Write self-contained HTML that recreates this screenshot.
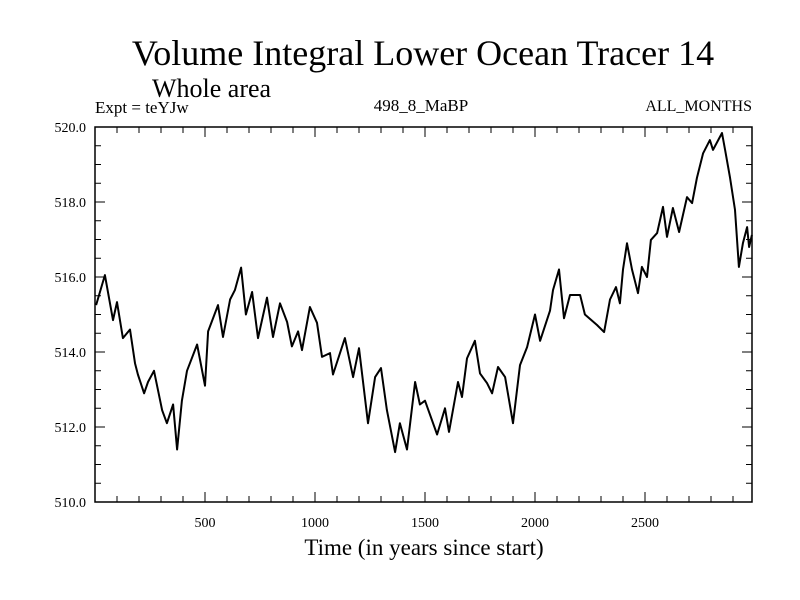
<!DOCTYPE html>
<html><head><meta charset="utf-8"><style>
body{margin:0;background:#fff}
svg{display:block;font-family:"Liberation Serif",serif}
</style></head><body>
<svg id="chart" width="800" height="600">
<text x="423" y="65" font-size="36" text-anchor="middle">Volume Integral Lower Ocean Tracer 14</text>
<text x="152" y="97" font-size="26">Whole area</text>
<text x="95" y="113" font-size="17">Expt = teYJw</text>
<text x="421" y="111" font-size="17" text-anchor="middle">498_8_MaBP</text>
<text x="752" y="111" font-size="16" text-anchor="end">ALL_MONTHS</text>
<text x="424" y="555" font-size="23" text-anchor="middle">Time (in years since start)</text>
<g id="axes"></g>
<rect x="95" y="127" width="657" height="375" fill="none" stroke="#000" stroke-width="1.5"/>
</svg>
<script>
const years=[5,45,82,100,127,159,182,195,223,241,268,305,327,355,373,395,418,464,500,514,559,582,614,636,664,686,714,741,782,809,841,873,895,923,941,977,1009,1032,1068,1082,1136,1173,1200,1241,1273,1300,1327,1364,1386,1418,1455,1477,1500,1555,1591,1609,1650,1668,1691,1727,1750,1782,1805,1832,1864,1900,1932,1964,2000,2023,2068,2082,2109,2132,2159,2205,2227,2282,2314,2341,2368,2386,2400,2418,2441,2468,2486,2509,2527,2555,2582,2600,2627,2655,2691,2714,2736,2764,2795,2809,2850,2864,2886,2909,2927,2945,2964,2973,2986];
const values=[515.25,516.05,514.85,515.33,514.37,514.6,513.7,513.4,512.9,513.2,513.5,512.45,512.1,512.6,511.4,512.7,513.5,514.2,513.1,514.55,515.25,514.4,515.4,515.65,516.25,515.0,515.6,514.37,515.45,514.4,515.3,514.8,514.15,514.55,514.05,515.2,514.78,513.87,513.97,513.4,514.37,513.33,514.1,512.1,513.33,513.57,512.45,511.33,512.1,511.4,513.2,512.6,512.7,511.8,512.5,511.87,513.2,512.8,513.83,514.3,513.43,513.17,512.9,513.6,513.33,512.1,513.65,514.13,515.0,514.3,515.1,515.65,516.2,514.9,515.52,515.52,515.0,514.72,514.53,515.4,515.73,515.3,516.2,516.9,516.2,515.57,516.27,516.0,516.99,517.17,517.87,517.07,517.84,517.2,518.13,517.97,518.64,519.3,519.65,519.39,519.84,519.39,518.67,517.79,516.27,516.9,517.33,516.8,517.12];
const yTicks=[510,512,514,516,518,520];
const yTickLabels=["510.0","512.0","514.0","516.0","518.0","520.0"];
const xTicks=[500,1000,1500,2000,2500];
const xTickLabels=["500","1000","1500","2000","2500"];
const X0=95,X1=752,Y0=502,Y1=127,XMAX=(752-95)/0.22;
const sx=v=>X0+v/XMAX*(X1-X0);
const sy=v=>Y0-(v-510)/10*(Y0-Y1);
const NS="http://www.w3.org/2000/svg";
const g=document.getElementById('axes');
function mk(t,a){const e=document.createElementNS(NS,t);for(const k in a)e.setAttribute(k,a[k]);g.appendChild(e);return e;}
for(let v=510;v<=520.001;v+=0.5){
  const major=Math.abs(v-Math.round(v/2)*2)<1e-6;
  const L=major?10:6;
  const a=mk('line',{x1:X0,x2:X0+L,y1:sy(v),y2:sy(v),stroke:'#000','stroke-width':1});
  
  
  const b=mk('line',{x1:X1,x2:X1-L,y1:sy(v),y2:sy(v),stroke:'#000','stroke-width':1});
  
  
}
for(let t=100;t<XMAX;t+=100){
  const major=t%500===0;
  const L=major?10:6;
  const a=mk('line',{x1:sx(t),x2:sx(t),y1:Y0,y2:Y0-L,stroke:'#000','stroke-width':1});
  
  
  const b=mk('line',{x1:sx(t),x2:sx(t),y1:Y1,y2:Y1+L,stroke:'#000','stroke-width':1});
  
  
}
yTicks.forEach((v,i)=>{
  const t=mk('text',{x:86,y:sy(v)+5,'font-size':14,'text-anchor':'end'});
  t.textContent=yTickLabels[i];
  
  
});
xTicks.forEach((v,i)=>{
  const t=mk('text',{x:sx(v),y:527,'font-size':14,'text-anchor':'middle'});
  t.textContent=xTickLabels[i];
  
  
});
const pts=years.map((y,i)=>sx(y).toFixed(1)+','+sy(values[i]).toFixed(1)).join(' ');
const pl=mk('polyline',{points:pts,fill:'none',stroke:'#000','stroke-width':2,'stroke-linejoin':'round'});


</script>
</body></html>
